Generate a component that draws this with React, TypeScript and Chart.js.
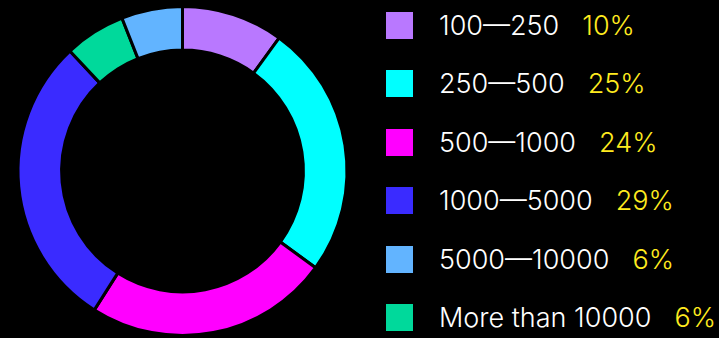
import React, { useEffect, useRef } from "react";
import { Chart, registerables } from "chart.js";

Chart.register(...registerables);

// Doughnut (drawing order, clockwise from top)
const sliceLabels = ["100—250", "250—500", "500—1000", "1000—5000", "More than 10000", "5000—10000"];
const sliceValues = [10, 25, 24, 29, 6, 6];
const sliceColors = ["#B978FF", "#00FFFF", "#FF00FF", "#3A2BFF", "#00D99B", "#62B4FF"];

// Legend order
const legendLabels = ["100—250", "250—500", "500—1000", "1000—5000", "5000—10000", "More than 10000"];

export default function App() {
  const canvasRef = useRef<HTMLCanvasElement | null>(null);

  useEffect(() => {
    document.body.style.margin = "0";
    document.body.style.background = "#000";
    const ctx = canvasRef.current!;
    const chart = new Chart(ctx, {
      type: "doughnut",
      data: {
        labels: sliceLabels,
        datasets: [
          {
            data: sliceValues,
            backgroundColor: sliceColors,
            borderColor: "#000",
            borderWidth: 3,
          },
        ],
      },
      options: {
        animation: false,
        responsive: false,
        cutout: "73.5%",
        layout: { padding: { top: 5, bottom: 1, left: 0, right: 0 } },
        plugins: { legend: { display: false }, tooltip: { enabled: false } },
      },
    });
    return () => chart.destroy();
  }, []);

  const findValue = (l: string) => sliceValues[sliceLabels.indexOf(l)];
  const findColor = (l: string) => sliceColors[sliceLabels.indexOf(l)];

  return (
    <div style={{ position: "fixed", left: 0, top: 0, width: 719, height: 338, background: "#000", overflow: "hidden" }}>
      <canvas ref={canvasRef} width={365} height={338} style={{ position: "absolute", left: 0, top: 0, width: 365, height: 338 }} />
      {legendLabels.map((l, i) => (
        <div
          key={l}
          style={{
            position: "absolute",
            left: 386,
            top: 12 + i * 58.4,
            height: 27,
            display: "flex",
            alignItems: "center",
            fontFamily: "Inter, sans-serif",
            fontWeight: 300,
            fontSize: 27,
            whiteSpace: "nowrap",
          }}
        >
          <span style={{ display: "inline-block", width: 27, height: 27, background: findColor(l), marginRight: 26, flex: "none" }} />
          <span style={{ color: "#fff" }}>{l}</span>
          <span style={{ color: "#FFEB1F", marginLeft: 23 }}>{findValue(l)}%</span>
        </div>
      ))}
    </div>
  );
}
